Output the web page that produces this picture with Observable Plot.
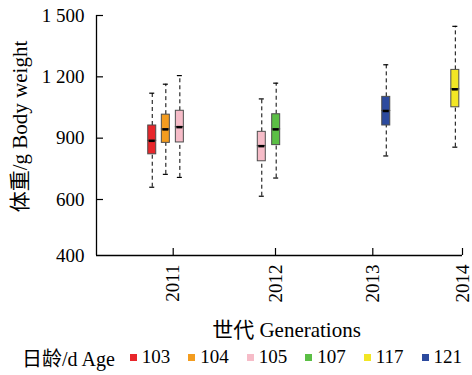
<!DOCTYPE html>
<html>
<head>
<meta charset="utf-8">
<script src="https://cdn.jsdelivr.net/npm/d3@7"></script>
<script src="https://cdn.jsdelivr.net/npm/@observablehq/plot@0.6"></script>
<style>
  html, body { margin: 0; padding: 0; background: #fff; }
  #wrap { width: 472px; height: 375px; font-family: "Liberation Serif", "Noto Sans CJK SC", serif; color: #000; }
  #legend { display: flex; align-items: center; height: 24px; font-size: 19px; padding-left: 22px; white-space: nowrap; }
  #legend .title { margin-right: 15px; font-size: 20px; }
  #legend .item { display: flex; align-items: center; margin-right: 18px; }
  #legend .sw { width: 7px; height: 7px; margin-right: 5px; }
</style>
</head>
<body>
<div id="wrap"><div id="chart"></div><div id="legend"></div></div>
<script>
// ---- data ----
const generations = [2011, 2011, 2011, 2012, 2012, 2013, 2014];
const ages        = ["103", "104", "105", "105", "107", "121", "117"];
const positions   = [2010.795, 2010.928, 2011.065, 2011.866, 2012.007, 2013.15, 2013.92];
const lowWhisker  = [660, 723, 708, 616, 705, 813, 856];
const q1          = [821, 877, 879, 787, 866, 962, 1051];
const median      = [887, 943, 954, 861, 943, 1033, 1139];
const q3          = [962, 1015, 1034, 931, 1017, 1102, 1234];
const highWhisker = [1120, 1164, 1206, 1092, 1169, 1259, 1447];

const legendAges   = ["103", "104", "105", "107", "117", "121"];
const legendColors = ["#e8262b", "#f39c1f", "#f6bcc8", "#5bbf45", "#f2e625", "#2c4a9e"];

const xTicks = [2011, 2012, 2013, 2014];
const xTickLabels = ["2011", "2012", "2013", "2014"];
const yTicks = [400, 600, 900, 1200, 1500];
const yTickLabels = ["400", "600", "900", "1 200", "1 500"];

const xTitle = "世代 Generations";
const yTitle = "体重/g Body weight";
const legendTitle = "日龄/d Age";

// ---- table ----
const boxes = positions.map((p, i) => ({
  pos: p, gen: generations[i], age: ages[i],
  lo: lowWhisker[i], q1: q1[i], med: median[i], q3: q3[i], hi: highWhisker[i]
}));

const xDomain = [2010.25, 2011, 2012, 2013, 2014];
const yDomain = [400, 600, 1500];

const plot = Plot.plot({
  width: 472,
  height: 345,
  marginLeft: 96,
  marginRight: 10,
  marginTop: 15,
  marginBottom: 90,
  style: { fontFamily: '"Liberation Serif", "Noto Sans CJK SC", serif', fontSize: "19px", background: "#fff", color: "#000" },
  x: { type: "linear", domain: xDomain, range: [96, 172.7, 275, 372.3, 462] },
  y: { type: "linear", domain: yDomain, range: [255, 199, 15] },
  color: { domain: legendAges, range: legendColors },
  marks: [
    // whiskers
    Plot.ruleX(boxes, { x: "pos", y1: "lo", y2: "q1", stroke: "#000", strokeWidth: 1, strokeDasharray: "4,3" }),
    Plot.ruleX(boxes, { x: "pos", y1: "q3", y2: "hi", stroke: "#000", strokeWidth: 1, strokeDasharray: "4,3" }),
    // caps
    Plot.ruleY(boxes, { y: "lo", x1: "pos", x2: "pos", insetLeft: -2.5, insetRight: -2.5, stroke: "#000", strokeWidth: 1.2 }),
    Plot.ruleY(boxes, { y: "hi", x1: "pos", x2: "pos", insetLeft: -2.5, insetRight: -2.5, stroke: "#000", strokeWidth: 1.2 }),
    // boxes (two halves for notch look)
    Plot.rect(boxes, { x1: "pos", x2: "pos", y1: "q1", y2: "med", insetLeft: -4, insetRight: -4, fill: "age", stroke: "#4d4d4d", strokeWidth: 1 }),
    Plot.rect(boxes, { x1: "pos", x2: "pos", y1: "med", y2: "q3", insetLeft: -4, insetRight: -4, fill: "age", stroke: "#4d4d4d", strokeWidth: 1 }),
    // median
    Plot.ruleY(boxes, { y: "med", x1: "pos", x2: "pos", insetLeft: -3, insetRight: -3, stroke: "#000", strokeWidth: 2.5 }),
    // axis lines
    Plot.ruleX([xDomain[0]], { stroke: "#000", strokeWidth: 1.3 }),
    Plot.ruleY([yDomain[0]], { stroke: "#000", strokeWidth: 1.3 }),
    // inward ticks
    Plot.ruleY(yTicks.slice(1), { y: d => d, x1: xDomain[0], x2: xDomain[0], insetRight: -7, stroke: "#000", strokeWidth: 1.2 }),
    Plot.ruleX(xTicks, { x: d => d, y1: yDomain[0], y2: yDomain[0], insetTop: -7, stroke: "#000", strokeWidth: 1.2 }),
    // tick labels
    Plot.axisY({ ticks: yTicks, tickSize: 0, tickPadding: 12, tickFormat: d => yTickLabels[yTicks.indexOf(d)], label: null }),
    Plot.axisX({ ticks: xTicks, tickSize: 0, tickPadding: 9, tickRotate: -90, tickFormat: d => xTickLabels[xTicks.indexOf(d)], label: null }),
    // axis titles
    Plot.text([yTitle], { frameAnchor: "left", text: d => d, rotate: -90, dx: -76, dy: -9, lineAnchor: "middle", textAnchor: "middle", fontSize: 21 }),
    Plot.text([xTitle], { frameAnchor: "bottom", text: d => d, dx: 7, dy: 75, lineAnchor: "middle", textAnchor: "middle", fontSize: 21 })
  ]
});
document.getElementById("chart").appendChild(plot);

// ---- legend ----
const legend = document.getElementById("legend");
const t = document.createElement("span");
t.className = "title";
t.textContent = legendTitle;
legend.appendChild(t);
legendAges.forEach((a, i) => {
  const it = document.createElement("span");
  it.className = "item";
  const sw = document.createElement("span");
  sw.className = "sw";
  sw.style.background = legendColors[i];
  const lb = document.createElement("span");
  lb.textContent = a;
  it.appendChild(sw);
  it.appendChild(lb);
  legend.appendChild(it);
});
</script>
</body>
</html>
